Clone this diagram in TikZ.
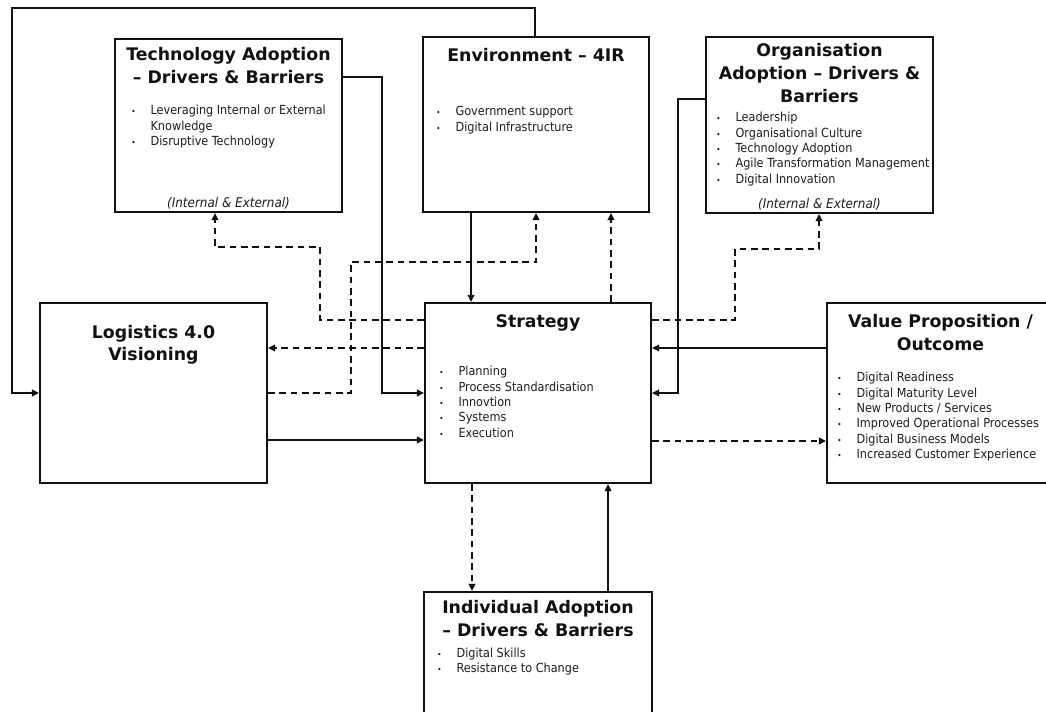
\documentclass[tikz,border=0pt]{standalone}
\usepackage{fontspec}
\setmainfont{DejaVu Sans}
\newfontfamily\itemfont{DejaVu Sans Condensed}[ItalicFont={DejaVu Sans Condensed Oblique}, BoldFont={DejaVu Sans Condensed Bold}]
\usetikzlibrary{arrows.meta,positioning}
\definecolor{ink}{HTML}{111111}
\definecolor{listink}{HTML}{1E1E1E}
\newcommand{\dotb}{{\fontsize{6}{6}\selectfont\textbullet}}
\newcommand{\itemsof}[1]{\begin{tabular}[t]{@{}p{14.5pt}@{}l@{}}#1\end{tabular}}
\tikzset{
  box/.style 2 args={draw=ink, line width=1.3pt, fill=white, minimum width=#1*0.75pt, minimum height=#2*0.75pt, inner sep=0pt},
  boxtitle/.style={font=\fontsize{13}{17}\selectfont\bfseries, text=ink, align=center, inner sep=0pt},
  itemtext/.style={font=\itemfont\fontsize{9.4}{11.5}\selectfont, text=listink, anchor=base west, inner sep=0pt},
  scopenote/.style={font=\itemfont\itshape\fontsize{10}{12}\selectfont, text=listink, inner sep=0pt},
  link/.style={->, line width=1.3pt, draw=ink},
  linkd/.style={link, dash pattern=on 5pt off 3.5pt}
}

\begin{document}
\begin{tikzpicture}[x=0.75pt, y=-0.75pt, >={Triangle[length=5.5pt,width=5pt]}]
\useasboundingbox (0,0) rectangle (1046,712);
\clip (0,0) rectangle (1046,712);
\fill[white] (0,0) rectangle (1046,712);

% boxes
\node[box={227}{173}] (tech) at (228.5,125.5) {};
\node[box={226}{175}] (env) at (536,124.5) {};
\node[box={227}{176}] (org) at (819.5,125) {};
\node[box={227}{180}] (logi) at (153.5,393) {};
\node[box={226}{180}] (strat) at (538,393) {};
\node[box={227}{180}] (value) at (940.5,393) {};
\node[box={228}{180}] (indiv) at (538,682) {};

% titles
\node[boxtitle, below=7pt of tech.north] (techT) {Technology Adoption\\– Drivers \& Barriers};
\node[boxtitle, below=9pt of env.north] (envT) {Environment – 4IR};
\node[boxtitle, below=5.5pt of org.north] (orgT) {Organisation\\Adoption – Drivers \&\\Barriers};
\node[boxtitle, below=17pt of logi.north] (logiT) {Logistics 4.0\\Visioning};
\node[boxtitle, below=9pt of strat.north] (stratT) {Strategy};
\node[boxtitle, below=9pt of value.north] (valueT) {Value Proposition /\\Outcome};
\node[boxtitle, below=7pt of indiv.north] (indivT) {Individual Adoption\\– Drivers \& Barriers};

% bullet lists
\node[itemtext] (techL) at (131,115) {\itemsof{\dotb & Leveraging Internal or External\\ & Knowledge\\ \dotb & Disruptive Technology}};
\node[itemtext] (envL) at (436,116) {\itemsof{\dotb & Government support\\ \dotb & Digital Infrastructure}};
\node[itemtext] (orgL) at (716,122) {\itemsof{\dotb & Leadership\\ \dotb & Organisational Culture\\ \dotb & Technology Adoption\\ \dotb & Agile Transformation Management\\ \dotb & Digital Innovation}};
\node[itemtext] (stratL) at (439,376) {\itemsof{\dotb & Planning\\ \dotb & Process Standardisation\\ \dotb & Innovtion\\ \dotb & Systems\\ \dotb & Execution}};
\node[itemtext] (valueL) at (837,382) {\itemsof{\dotb & Digital Readiness\\ \dotb & Digital Maturity Level\\ \dotb & New Products / Services\\ \dotb & Improved Operational Processes\\ \dotb & Digital Business Models\\ \dotb & Increased Customer Experience}};
\node[itemtext] (indivL) at (437,657) {\itemsof{\dotb & Digital Skills\\ \dotb & Resistance to Change}};

\node[scopenote, above=2.5pt of tech.south] (techN) {(Internal \& External)};
\node[scopenote, above=2.5pt of org.south] (orgN) {(Internal \& External)};

% solid links
\draw[link] (env.north -| 535,0) |- (12,8) |- (logi.west |- 0,393);
\draw[link] (tech.east |- 0,77) -| (382,393) -- (strat.west |- 0,393);
\draw[link] (org.west |- 0,99) -| (678,393) -- (strat.east |- 0,393);
\draw[link] (env.south -| 471,0) -- (strat.north -| 471,0);
\draw[link] (logi.east |- 0,440) -- (strat.west |- 0,440);
\draw[link] (value.west |- 0,348) -- (strat.east |- 0,348);
\draw[link] (indiv.north -| 608,0) -- (strat.south -| 608,0);

% dashed links
\draw[linkd] (logi.east |- 0,393) -| (351,262) -| (env.south -| 536,0);
\draw[linkd] (strat.west |- 0,320) -| (320,247) -| (tech.south -| 215,0);
\draw[linkd] (strat.west |- 0,348) -- (logi.east |- 0,348);
\draw[linkd] (strat.north -| 611,0) -- (env.south -| 611,0);
\draw[linkd] (strat.east |- 0,320) -| (735,249) -| (org.south -| 819,0);
\draw[linkd] (strat.east |- 0,441) -- (value.west |- 0,441);
\draw[linkd] (strat.south -| 472,0) -- (indiv.north -| 472,0);
\end{tikzpicture}
\end{document}
